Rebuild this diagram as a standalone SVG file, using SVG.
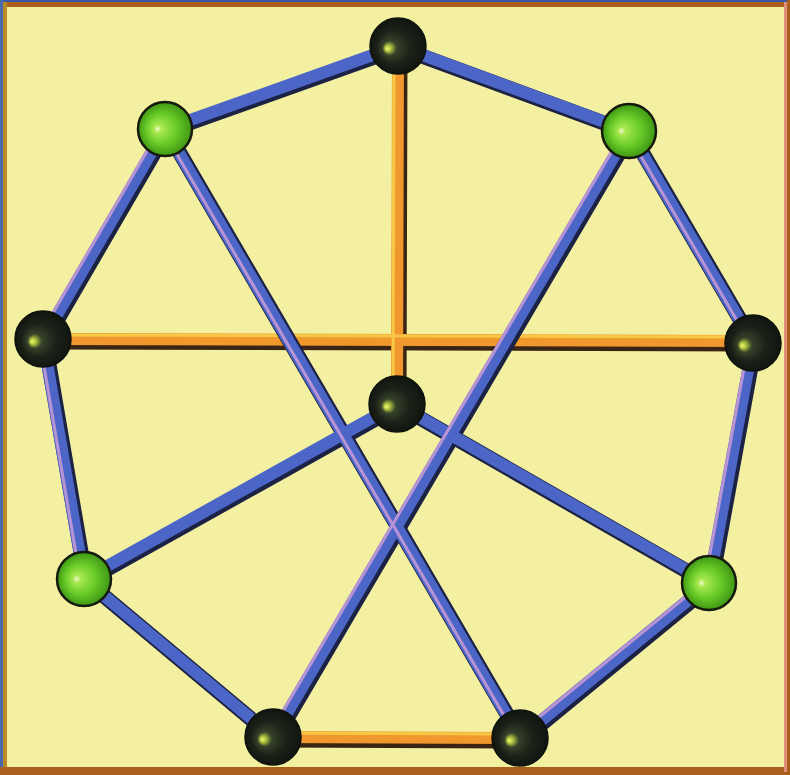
<svg xmlns="http://www.w3.org/2000/svg" width="790" height="775" viewBox="0 0 790 775">
<defs>
<style>
.rod line{stroke-linecap:round;fill:none}
.bs line{stroke:#1c2244;stroke-width:15}
.bm line{stroke:#4c66c8;stroke-width:12}
.bh line{stroke:#b894d4;stroke-width:3}
.os line{stroke:#3a2414;stroke-width:15}
.om line{stroke:#f0982e;stroke-width:12}
.oh line{stroke:#f6c846;stroke-width:3}
.black{fill:url(#gBlack);stroke:#0e120c;stroke-width:1.5}
.green{fill:url(#gGreen);stroke:#161a0e;stroke-width:2.5}
</style>
<radialGradient id="gBlack" cx="0.5" cy="0.5" r="0.5" fx="0.3" fy="0.55">
<stop offset="0" stop-color="#f2fa78"/>
<stop offset="0.1" stop-color="#b4c840"/>
<stop offset="0.26" stop-color="#36422a"/>
<stop offset="0.6" stop-color="#1c2218"/>
<stop offset="1" stop-color="#111510"/>
</radialGradient>
<radialGradient id="gGreen" cx="0.5" cy="0.5" r="0.5" fx="0.35" fy="0.5">
<stop offset="0" stop-color="#f4fad0"/>
<stop offset="0.14" stop-color="#a8e850"/>
<stop offset="0.55" stop-color="#6acc28"/>
<stop offset="1" stop-color="#3e9614"/>
</radialGradient>
</defs>
<rect x="0" y="0" width="790" height="775" fill="#f3f0a2"/>
<g id="frame" fill="none">
<rect x="0" y="0" width="790" height="2" fill="#3a5aa8"/>
<rect x="0" y="2" width="790" height="5" fill="#a8601c"/>
<rect x="0" y="0" width="3" height="775" fill="#4a6ab0"/>
<rect x="3" y="2" width="4" height="773" fill="#b88a24"/>
<rect x="0" y="767" width="790" height="8" fill="#a8601c"/>
<rect x="784" y="2" width="3" height="770" fill="#e0907a"/>
<rect x="787" y="0" width="3" height="775" fill="#a8601c"/>
</g>
<g id="connectors" class="rod">
<g class="os" transform="translate(2,3)">
<line x1="398" y1="46" x2="397" y2="404"/>
<line x1="43" y1="339" x2="753" y2="341"/>
<line x1="273" y1="737" x2="520" y2="738"/>
</g>
<g class="om">
<line x1="398" y1="46" x2="397" y2="404"/>
<line x1="43" y1="339" x2="753" y2="341"/>
<line x1="273" y1="737" x2="520" y2="738"/>
</g>
<g class="oh" transform="translate(-4,-4)">
<line x1="398" y1="46" x2="397" y2="404"/>
<line x1="43" y1="339" x2="753" y2="341"/>
<line x1="273" y1="737" x2="520" y2="738"/>
</g>
<g class="bs" transform="translate(2,2)">
<line x1="398" y1="46" x2="165" y2="129"/>
<line x1="398" y1="46" x2="629" y2="131"/>
<line x1="165" y1="129" x2="43" y2="339"/>
<line x1="629" y1="131" x2="753" y2="343"/>
<line x1="43" y1="339" x2="84" y2="579"/>
<line x1="753" y1="343" x2="709" y2="583"/>
<line x1="84" y1="579" x2="273" y2="737"/>
<line x1="709" y1="583" x2="520" y2="738"/>
<line x1="165" y1="129" x2="520" y2="738"/>
<line x1="629" y1="131" x2="273" y2="737"/>
<line x1="397" y1="404" x2="84" y2="579"/>
<line x1="397" y1="404" x2="709" y2="583"/>
</g>
<g class="bm">
<line x1="398" y1="46" x2="165" y2="129"/>
<line x1="398" y1="46" x2="629" y2="131"/>
<line x1="165" y1="129" x2="43" y2="339"/>
<line x1="629" y1="131" x2="753" y2="343"/>
<line x1="43" y1="339" x2="84" y2="579"/>
<line x1="753" y1="343" x2="709" y2="583"/>
<line x1="84" y1="579" x2="273" y2="737"/>
<line x1="709" y1="583" x2="520" y2="738"/>
<line x1="165" y1="129" x2="520" y2="738"/>
<line x1="629" y1="131" x2="273" y2="737"/>
<line x1="397" y1="404" x2="84" y2="579"/>
<line x1="397" y1="404" x2="709" y2="583"/>
</g>
<g class="bh" transform="translate(-4,-2)">
<line x1="165" y1="129" x2="43" y2="339"/>
<line x1="629" y1="131" x2="753" y2="343"/>
<line x1="43" y1="339" x2="84" y2="579"/>
<line x1="753" y1="343" x2="709" y2="583"/>
<line x1="165" y1="129" x2="520" y2="738"/>
<line x1="629" y1="131" x2="273" y2="737"/>
<line x1="709" y1="583" x2="520" y2="738"/>
</g>
</g>
<g id="n-top"><circle class="black" cx="398" cy="46" r="28"/></g>
<g id="n-ul"><circle class="green" cx="165" cy="129" r="27"/></g>
<g id="n-ur"><circle class="green" cx="629" cy="131" r="27"/></g>
<g id="n-left"><circle class="black" cx="43" cy="339" r="28"/></g>
<g id="n-right"><circle class="black" cx="753" cy="343" r="28"/></g>
<g id="n-center"><circle class="black" cx="397" cy="404" r="28"/></g>
<g id="n-ll"><circle class="green" cx="84" cy="579" r="27"/></g>
<g id="n-lr"><circle class="green" cx="709" cy="583" r="27"/></g>
<g id="n-bl"><circle class="black" cx="273" cy="737" r="28"/></g>
<g id="n-br"><circle class="black" cx="520" cy="738" r="28"/></g>
</svg>
